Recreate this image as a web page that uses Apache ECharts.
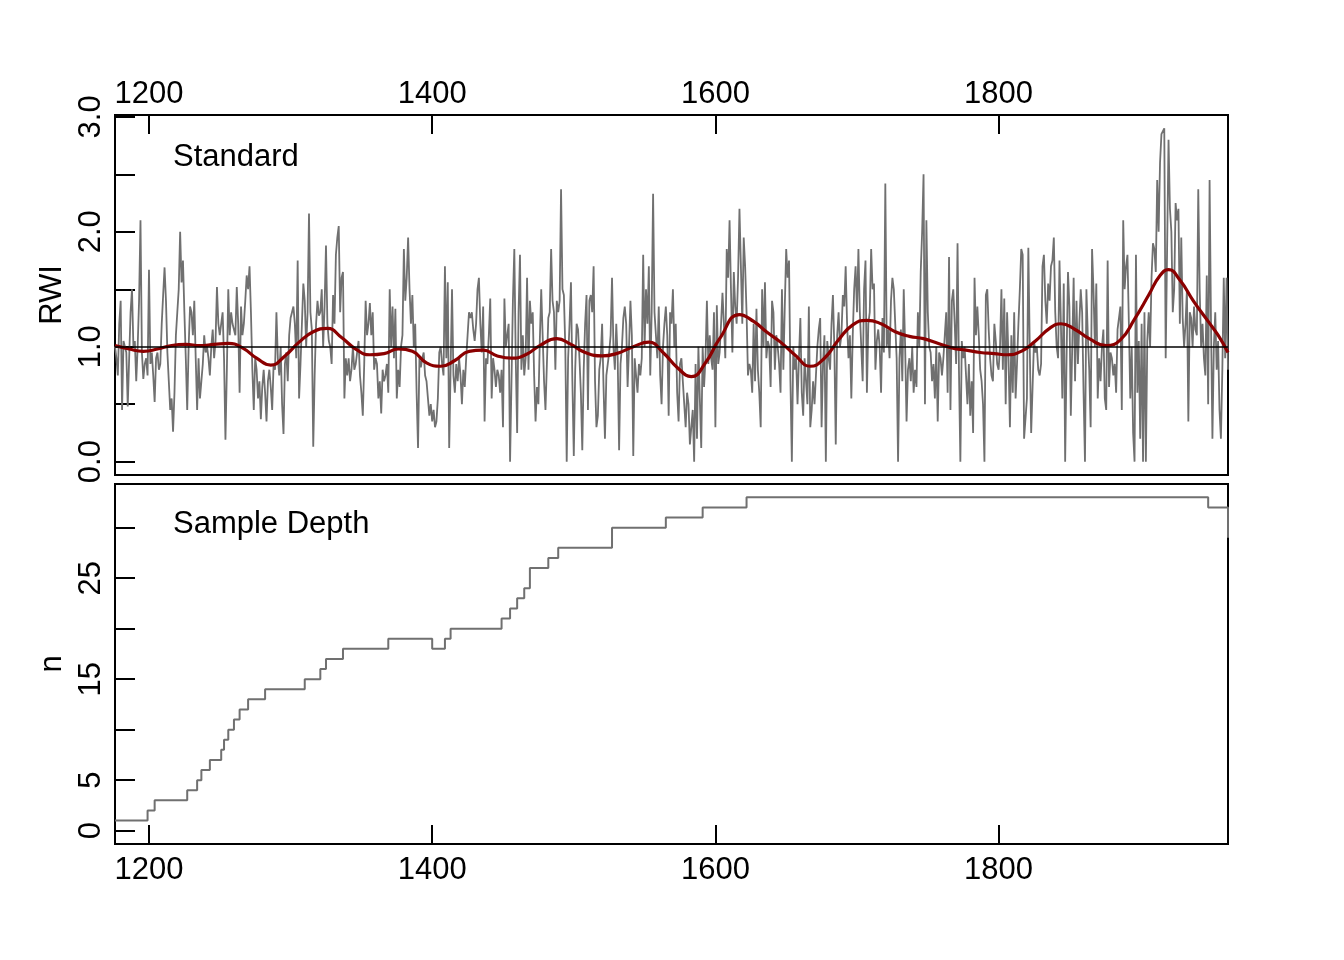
<!DOCTYPE html>
<html>
<head>
<meta charset="utf-8">
<title>Standard chronology and sample depth</title>
<script src="https://cdn.jsdelivr.net/npm/echarts@6.0.0/dist/echarts.min.js"></script>
<style>
  html, body { margin: 0; padding: 0; background: #fff; }
  #chart { width: 1344px; height: 960px; }
</style>
</head>
<body>
<div id="chart"></div>
<script>
// first year of the chronology, one value per year after it
var firstYear = 1176;

// standard ring width index, 1176-1962
var rwi = [
  1.0, 0.9, 0.75, 1.2, 1.4, 0.45, 1.05, 1.0, 0.95, 0.48,
  0.9, 1.3, 1.5, 1.0, 1.05, 0.7, 1.0, 1.4, 2.1, 0.95,
  0.72, 0.85, 0.9, 0.75, 1.67, 0.85, 0.95, 0.75, 0.52, 0.9,
  0.95, 0.8, 0.85, 1.2, 1.45, 1.69, 1.4, 0.95, 0.7, 0.45,
  0.55, 0.26, 0.6, 1.1, 1.3, 1.5, 2.0, 1.56, 1.75, 1.3,
  0.9, 0.45, 1.0, 1.35, 1.3, 1.1, 1.4, 0.9, 0.45, 0.9,
  0.55, 0.7, 0.85, 1.1, 0.95, 1.0, 0.9, 0.75, 1.0, 1.15,
  0.9, 1.05, 1.52, 1.2, 1.1, 1.2, 1.3, 0.9, 0.19, 0.8,
  1.5, 1.1, 1.3, 1.2, 1.15, 1.1, 1.52, 1.2, 0.6, 1.35,
  1.1, 1.2, 1.4, 1.62, 1.5, 1.7, 1.3, 0.8, 0.45,
  // 1275
  0.9, 0.8, 0.55, 0.7, 0.37, 0.65, 0.8, 0.6, 0.35, 0.7,
  0.8, 0.65, 0.45, 0.85, 0.8, 1.3, 0.9, 0.75, 1.0, 0.5,
  0.24, 0.85, 0.95, 0.7, 1.1, 1.25, 1.3, 1.35, 1.2, 0.9,
  1.75, 0.55, 0.85, 1.2, 1.55, 1.4, 1.0, 1.3, 2.16, 1.3,
  1.15, 0.13, 0.75, 1.2, 1.4, 1.27, 1.3, 1.5, 1.0, 1.35,
  1.88, 1.2, 1.05, 1.0, 0.85, 1.45, 1.2, 1.8, 1.95, 2.05,
  1.3, 1.6, 1.65, 0.55, 0.9, 0.75, 0.9, 0.7, 0.8, 1.0,
  0.8, 0.85, 0.95, 1.05, 0.75, 0.6, 0.4, 0.85, 1.4, 1.1,
  1.2, 1.38, 1.1, 1.3, 0.8, 0.9, 0.85, 0.55, 0.7, 0.42,
  0.8, 0.7, 0.75, 0.85, 0.6, 1.5, 1.0, 1.35, 0.9,
  // 1374
  1.33, 0.55, 0.8, 0.65, 1.0, 1.1, 1.85, 1.4, 1.6, 1.95,
  1.5, 1.2, 1.45, 1.0, 1.2, 0.6, 0.12, 0.9, 0.82, 0.9,
  0.95, 0.75, 0.7, 0.55, 0.4, 0.5, 0.35, 0.45, 0.3, 0.35,
  0.55, 0.95, 1.0, 0.85, 0.75, 1.7, 0.9, 1.56, 0.12, 0.8,
  1.5, 0.75, 0.6, 0.85, 0.7, 0.9, 0.75, 0.5, 0.8, 0.65,
  0.9, 1.1, 1.3, 1.25, 1.3, 1.15, 1.05, 1.2, 1.5, 1.6,
  1.2, 0.95, 1.35, 0.35, 0.9, 0.85, 1.1, 1.42, 0.55, 0.9,
  0.8, 0.65, 0.8, 0.75, 0.6, 0.8, 0.3, 1.42, 1.0, 1.1,
  1.2, 0.0, 0.7, 1.4, 1.85, 0.9, 0.25, 1.3, 1.8, 0.8,
  1.1, 0.75, 0.9, 1.6, 0.8, 1.4, 1.2, 1.3, 0.75,
  // 1473
  0.35, 0.65, 0.5, 1.05, 1.5, 1.1, 0.7, 0.45, 0.85, 1.25,
  1.3, 1.85, 1.4, 1.3, 0.8, 1.4, 1.3, 1.4, 2.37, 1.5,
  1.45, 1.0, 0.0, 0.9, 1.2, 1.56, 0.7, 0.05, 0.8, 1.2,
  1.15, 0.9, 0.6, 0.1, 0.8, 1.2, 1.45, 0.45, 1.4, 1.45,
  1.3, 1.7, 0.7, 0.3, 0.4, 0.8, 0.9, 1.2, 0.65, 0.2,
  0.75, 0.85, 0.95, 1.1, 1.6, 1.0, 0.8, 1.2, 0.9, 0.1,
  0.85, 1.0, 1.25, 1.35, 1.2, 0.65, 1.0, 1.4, 1.1, 0.05,
  0.9, 0.75, 0.6, 0.85, 0.75, 0.9, 1.8, 1.0, 1.5, 1.2,
  1.7, 0.75, 1.3, 2.33, 1.3, 1.1, 0.9, 1.35, 0.75, 0.5,
  1.0, 1.2, 1.35, 1.1, 0.4, 1.3, 1.2, 1.5, 1.0,
  // 1572
  1.2, 0.6, 0.35, 0.85, 0.9, 0.7, 0.5, 0.3, 0.6, 0.5,
  0.15, 0.3, 0.45, 0.0, 0.85, 0.2, 1.0, 0.55, 0.12, 1.0,
  0.65, 0.9, 1.4, 0.85, 1.1, 0.9, 0.8, 1.3, 0.3, 1.36,
  0.85, 0.95, 1.2, 1.47, 1.2, 0.9, 1.85, 1.6, 2.1, 1.5,
  0.95, 1.65, 1.35, 1.2, 1.6, 2.2, 2.2, 1.2, 1.95, 1.7,
  1.3, 0.75, 0.85, 0.8, 0.6, 1.2, 0.7, 1.33, 0.8, 0.6,
  0.3, 1.5, 1.0, 1.56, 0.9, 1.05, 1.0, 0.65, 1.4, 1.3,
  0.8, 1.1, 1.0, 0.85, 0.6, 1.5, 0.8, 1.35, 1.85, 1.6,
  1.75, 0.7, 0.0, 1.0, 0.8, 0.9, 0.5, 0.9, 1.25, 0.6,
  0.4, 0.9, 0.7, 0.5, 1.35, 0.3, 0.45, 0.7,
  // 1670
  0.5, 0.75, 1.0, 1.15, 1.25, 0.3, 0.85, 1.1, 0.0, 1.05,
  0.9, 0.8, 1.2, 1.45, 1.0, 0.15, 1.1, 1.3, 1.0, 1.1,
  1.45, 1.35, 1.7, 1.2, 0.9, 1.1, 0.55, 1.1, 1.5, 1.7,
  1.3, 1.85, 1.3, 1.0, 0.7, 1.5, 1.75, 0.6, 1.2, 1.3,
  1.85, 1.5, 1.55, 0.8, 1.05, 1.15, 1.0, 0.6, 1.25, 0.95,
  2.42, 1.0, 1.15, 0.9, 1.4, 1.6, 1.5, 1.2, 0.9, 0.0,
  0.9, 1.15, 0.7, 1.5, 1.0, 0.35, 0.8, 0.9, 0.7, 1.0,
  0.6, 0.8, 0.65, 1.3, 1.0, 1.65, 2.0, 2.5, 0.5, 2.1,
  1.3, 1.0, 0.95, 0.7, 0.85, 0.55, 1.0, 0.35, 0.95, 0.9,
  0.75, 0.9, 1.1, 1.3, 0.6, 1.78, 0.45, 1.4,
  // 1768
  1.5, 1.2, 0.85, 1.9, 0.8, 0.0, 1.05, 0.9, 1.0, 0.75,
  0.5, 0.85, 0.4, 0.7, 0.25, 1.6, 1.1, 1.35, 1.1, 0.8,
  0.7, 0.5, 0.0, 1.45, 1.5, 1.15, 0.9, 0.75, 0.7, 1.2,
  1.05, 0.85, 0.8, 1.0, 1.5, 0.8, 1.42, 0.5, 1.3, 0.9,
  0.3, 1.1, 0.6, 1.3, 0.55, 0.85, 1.2, 1.5, 1.85, 1.8,
  0.2, 0.2, 0.55, 1.86, 1.0, 0.25, 0.65, 1.05, 0.95, 1.0,
  0.8, 0.75, 0.85, 1.7, 1.8, 1.4, 1.2, 1.55, 1.4, 1.7,
  1.75, 1.95, 1.3, 1.0, 0.9, 1.75, 1.2, 0.55, 1.55, 0.0,
  0.9, 1.65, 1.35, 0.4, 1.0, 1.6, 0.7, 1.4, 0.85, 1.2,
  1.5, 1.3, 0.6, 0.0, 1.5, 1.1, 0.8, 0.3, 1.85, 1.5,
  // 1868
  1.0, 1.55, 0.55, 0.9, 0.7, 1.0, 1.15, 0.55, 0.45, 1.75,
  0.65, 0.95, 0.9, 0.75, 0.85, 0.6, 1.15, 1.25, 1.35, 0.45,
  2.1, 1.5, 1.7, 1.8, 1.2, 0.55, 1.0, 0.25, 0.0, 1.8,
  0.6, 1.05, 0.2, 1.2, 0.0, 1.3, 0.0, 1.05, 1.3, 1.0,
  1.6, 1.9, 1.85, 1.65, 2.45, 2.0, 2.6, 2.85, 2.85, 2.9,
  0.9, 1.85, 2.8, 2.2, 2.0, 1.3, 1.5, 2.25, 2.1, 2.2,
  1.2, 1.95, 1.25, 1.0, 1.2, 1.5, 0.35, 1.3, 1.25, 1.0,
  1.35, 1.15, 1.1, 2.37, 1.5, 1.0, 1.2, 0.9, 0.75, 1.62,
  0.5, 2.45, 1.2, 0.2, 1.0, 1.3, 0.8, 1.05, 0.45, 0.2,
  0.8, 1.6, 0.9, 1.6, 0.8
];

// smoothing spline
var splineYears = [1176, 1186, 1196, 1206, 1216, 1226, 1236, 1246, 1256, 1266,
  1276, 1286, 1296, 1306, 1316, 1326, 1336, 1346, 1356, 1366,
  1376, 1386, 1396, 1406, 1416, 1426, 1436, 1446, 1456, 1466,
  1476, 1488, 1498, 1508, 1520, 1530, 1542, 1553, 1563, 1573,
  1583, 1593, 1603, 1617, 1627, 1636, 1646, 1656, 1667, 1677,
  1687, 1697, 1707, 1717, 1727, 1737, 1747, 1757, 1767, 1777,
  1787, 1797, 1806, 1816, 1826, 1836, 1844, 1854, 1864, 1876,
  1886, 1896, 1906, 1914, 1920, 1928, 1938, 1948, 1955, 1962];
var splineValues = [1.01, 0.98, 0.96, 0.98, 1.01, 1.02, 1.01, 1.02, 1.03, 0.99,
  0.90, 0.84, 0.92, 1.04, 1.13, 1.16, 1.08, 0.98, 0.93, 0.94,
  0.98, 0.96, 0.86, 0.83, 0.88, 0.96, 0.97, 0.92, 0.90, 0.93,
  1.01, 1.07, 1.02, 0.95, 0.92, 0.94, 1.00, 1.04, 0.95, 0.82,
  0.74, 0.86, 1.07, 1.28, 1.22, 1.13, 1.04, 0.93, 0.83, 0.90,
  1.06, 1.19, 1.23, 1.20, 1.13, 1.09, 1.07, 1.03, 0.99, 0.97,
  0.95, 0.94, 0.93, 0.96, 1.05, 1.16, 1.20, 1.15, 1.07, 1.01,
  1.06, 1.24, 1.45, 1.62, 1.67, 1.58, 1.39, 1.22, 1.10, 0.95];

// sample depth: year where a new count starts, and that count
var depthYears = [1176, 1199, 1204, 1227, 1234, 1237, 1243, 1251, 1253, 1256,
  1260, 1264, 1270, 1282, 1310, 1321, 1325, 1337, 1369, 1400,
  1409, 1413, 1449, 1455, 1460, 1465, 1469, 1482, 1489, 1527,
  1565, 1591, 1622, 1948, 1962];
var depthValues = [1, 2, 3, 4, 5, 6, 7, 8, 9, 10,
  11, 12, 13, 14, 15, 16, 17, 18, 19, 18,
  19, 20, 21, 22, 23, 24, 26, 27, 28, 30,
  31, 32, 33, 32, 29];

var yearTicks = [1200, 1400, 1600, 1800];
var rwiTicks = [0, 0.5, 1, 1.5, 2, 2.5, 3];
var rwiLabels = [0, 1, 2, 3];
var depthTicks = [0, 5, 10, 15, 20, 25, 30];
var depthLabels = [0, 5, 15, 25];

var font = 'Liberation Sans, Arial, Helvetica, sans-serif';
var chart = echarts.init(document.getElementById('chart'));

var rwiData = rwi.map(function (v, i) { return [firstYear + i, v]; });
var splineData = splineYears.map(function (y, i) { return [y, splineValues[i]]; });
var depthData = depthYears.map(function (y, i) { return [y, depthValues[i]]; });

function xAxisFor(gridIndex, position, margin) {
  return {
    type: 'value', gridIndex: gridIndex, position: position,
    min: firstYear, max: firstYear + rwi.length - 1,
    axisLine: { show: false, onZero: false },
    splitLine: { show: false },
    axisTick: { show: true, inside: true, length: 19, customValues: yearTicks,
      lineStyle: { color: '#000', width: 2 } },
    axisLabel: { show: true, customValues: yearTicks, margin: margin,
      fontSize: 31, color: '#000', fontFamily: font,
      formatter: function (v) { return String(v); } }
  };
}

var option = {
  animation: false,
  backgroundColor: '#fff',
  grid: [
    { left: 115, top: 115, width: 1113, height: 360, show: true,
      borderColor: '#000', borderWidth: 2, backgroundColor: 'transparent' },
    { left: 115, top: 484, width: 1113, height: 360, show: true,
      borderColor: '#000', borderWidth: 2, backgroundColor: 'transparent' }
  ],
  xAxis: [xAxisFor(0, 'top', 5), xAxisFor(1, 'bottom', 11)],
  yAxis: [
    {
      type: 'value', gridIndex: 0, min: -0.116, max: 3.016,
      name: 'RWI', nameLocation: 'middle', nameGap: 39,
      nameTextStyle: { fontSize: 31, color: '#000', fontFamily: font },
      axisLine: { show: false, onZero: false },
      splitLine: { show: false },
      axisTick: { show: true, inside: true, length: 20, customValues: rwiTicks,
        lineStyle: { color: '#000', width: 2 } },
      axisLabel: { show: true, customValues: rwiLabels, rotate: 90, margin: 8,
        fontSize: 31, color: '#000', fontFamily: font,
        formatter: function (v) { return v.toFixed(1); } }
    },
    {
      type: 'value', gridIndex: 1, min: -1.32, max: 34.32,
      name: 'n', nameLocation: 'middle', nameGap: 36,
      nameTextStyle: { fontSize: 31, color: '#000', fontFamily: font },
      axisLine: { show: false, onZero: false },
      splitLine: { show: false },
      axisTick: { show: true, inside: true, length: 20, customValues: depthTicks,
        lineStyle: { color: '#000', width: 2 } },
      axisLabel: { show: true, customValues: depthLabels, rotate: 90, margin: 8,
        fontSize: 31, color: '#000', fontFamily: font }
    }
  ],
  graphic: [
    { type: 'text', left: 173, top: 142,
      style: { text: 'Standard', font: '31px ' + font, fill: '#000' } },
    { type: 'text', left: 173, top: 509,
      style: { text: 'Sample Depth', font: '31px ' + font, fill: '#000' } }
  ],
  series: [
    {
      name: 'RWI', type: 'line', xAxisIndex: 0, yAxisIndex: 0,
      data: rwiData, showSymbol: false, symbol: 'none', z: 2,
      lineStyle: { color: '#707070', width: 1.8 },
      markLine: {
        silent: true, symbol: 'none', label: { show: false },
        lineStyle: { color: '#000', width: 1.6, type: 'solid' },
        data: [{ yAxis: 1 }]
      }
    },
    {
      name: 'Spline', type: 'line', xAxisIndex: 0, yAxisIndex: 0,
      data: splineData, smooth: 0.5, showSymbol: false, symbol: 'none', z: 4,
      lineStyle: { color: '#8B0000', width: 3.2 }
    },
    {
      name: 'Sample Depth', type: 'line', xAxisIndex: 1, yAxisIndex: 1,
      data: depthData, step: 'end', showSymbol: false, symbol: 'none',
      lineStyle: { color: '#707070', width: 2 }
    }
  ]
};

chart.setOption(option);
</script>
</body>
</html>
